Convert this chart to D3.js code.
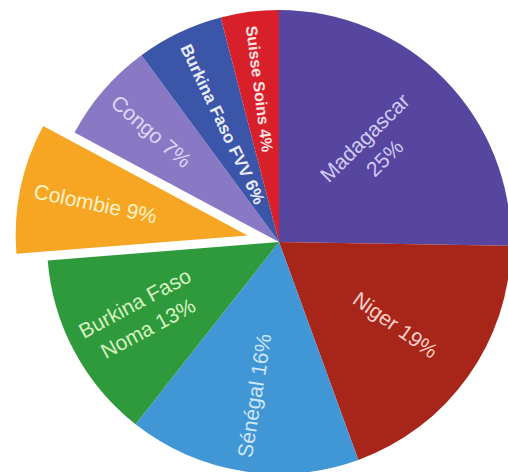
<!DOCTYPE html>
<html>
<head>
<meta charset="utf-8">
<script src="https://cdn.jsdelivr.net/npm/d3@7"></script>
<style>
  body { margin: 0; background: #fff; }
  svg { display: block; }
</style>
</head>
<body>
<svg width="508" height="472"></svg>
<script>
// slices, clockwise from 12 o'clock
var names = ["Madagascar", "Niger", "Sénégal", "Burkina Faso Noma", "Colombie", "Congo", "Burkina Faso FVV", "Suisse Soins"];
var values = [25, 19, 16, 13, 9, 7, 6, 4];
var labelLines = [
    ["Madagascar", "25%"],
    ["Niger 19%"],
    ["Sénégal 16%"],
    ["Burkina Faso", "Noma 13%"],
    ["Colombie 9%"],
    ["Congo 7%"],
    ["Burkina Faso FVV 6%"],
    ["Suisse Soins 4%"]
];
var exploded = ["Colombie"];

var fills = {
    "Madagascar": "#5646a0",
    "Niger": "#a8251a",
    "Sénégal": "#4196d6",
    "Burkina Faso Noma": "#2f9a3b",
    "Colombie": "#f6a623",
    "Congo": "#8978c4",
    "Burkina Faso FVV": "#3b55a8",
    "Suisse Soins": "#d8202b"
};
var textFills = {
    "Madagascar": "#d2caf2",
    "Niger": "#f8d2ca",
    "Sénégal": "#cfe7f8",
    "Burkina Faso Noma": "#d6f2c2",
    "Colombie": "#fff3c8",
    "Congo": "#ddd7f4",
    "Burkina Faso FVV": "#e8ecf8",
    "Suisse Soins": "#fbe2e2"
};
// the two thin slices use a smaller bold type
var boldLabels = { "Burkina Faso FVV": 17, "Suisse Soins": 16 };

var svg = d3.select("svg");
var cx = 279, cy = 242, radius = 232;
var explodeDist = 32;
var outerStart = 218;   // left half: text starts near the rim
var outerEnd = 192;     // right half: text ends here

var data = names.map(function(n, i) { return { name: n, value: values[i], lines: labelLines[i] }; });

var pie = d3.pie().sort(null).value(function(d) { return d.value; });
var arc = d3.arc().innerRadius(0).outerRadius(radius);

var g = svg.append("g").attr("transform", "translate(" + cx + "," + cy + ")");

var slices = g.selectAll("g.slice")
    .data(pie(data))
    .enter().append("g")
    .attr("class", "slice")
    .attr("transform", function(d) {
        if (exploded.indexOf(d.data.name) < 0) return null;
        var a = (d.startAngle + d.endAngle) / 2;
        return "translate(" + (Math.sin(a) * explodeDist) + "," + (-Math.cos(a) * explodeDist) + ")";
    });

slices.append("path")
    .attr("d", arc)
    .attr("fill", function(d) { return fills[d.data.name]; });

// rotated radial labels
slices.each(function(d) {
    var a = (d.startAngle + d.endAngle) / 2;
    var deg = a * 180 / Math.PI;
    var left = deg > 180;
    var rot = left ? deg - 270 : deg - 90;
    var size = boldLabels[d.data.name] || 21;
    var weight = boldLabels[d.data.name] ? "bold" : "normal";

    var lab = d3.select(this).append("g");
    var txt = lab.selectAll("text")
        .data(d.data.lines)
        .enter().append("text")
        .attr("text-anchor", "middle")
        .attr("font-family", "Liberation Sans, Arial, sans-serif")
        .attr("font-size", size)
        .attr("font-weight", weight)
        .attr("fill", textFills[d.data.name])
        .attr("dy", function(t, i) {
            var n = d.data.lines.length;
            return ((i - (n - 1) / 2) * 1.35 + 0.35) + "em";
        })
        .text(function(t) { return t; });

    var w = d3.max(txt.nodes(), function(n) { return n.getComputedTextLength(); });
    var r = left ? outerStart - w / 2 : outerEnd - w / 2;
    lab.attr("transform", "translate(" + (Math.sin(a) * r) + "," + (-Math.cos(a) * r) + ") rotate(" + rot + ")");
});
</script>
</body>
</html>
